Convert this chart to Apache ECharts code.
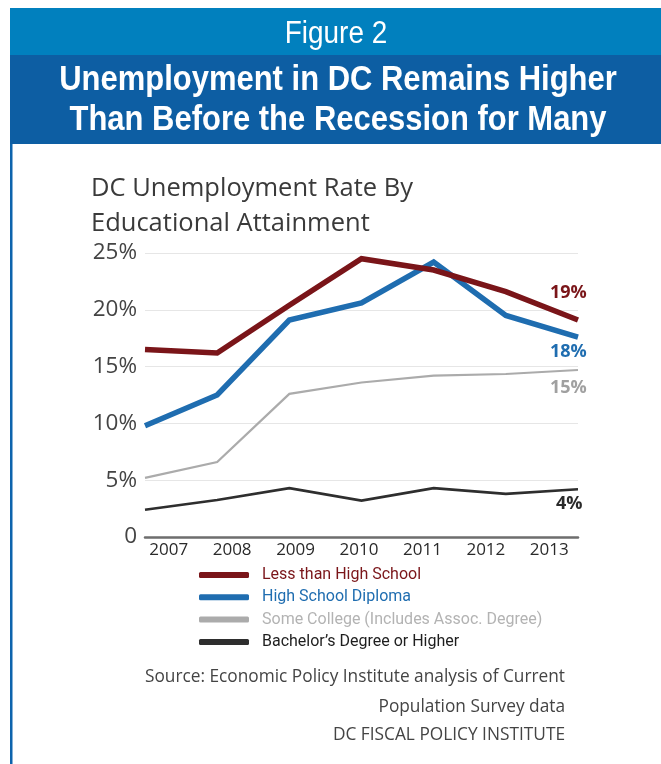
<!DOCTYPE html>
<html>
<head>
<meta charset="utf-8">
<style>
html,body{margin:0;padding:0;background:#fff;}
#chart{width:661px;height:764px;}
</style>
<script src="https://cdn.jsdelivr.net/npm/echarts@6/dist/echarts.min.js"></script>
</head>
<body>
<div id="chart"></div>
<script>
var years = ['2007','2008','2009','2010','2011','2012','2013'];
var yTicks = [0, 5, 10, 15, 20, 25];
var lessThanHS = [16.5, 16.2, 20.4, 24.5, 23.5, 21.6, 19.1];
var hsDiploma = [9.8, 12.5, 19.1, 20.6, 24.2, 19.5, 17.6];
var someCollege = [5.2, 6.6, 12.6, 13.6, 14.2, 14.35, 14.7];
var bachelors = [2.4, 3.25, 4.3, 3.2, 4.3, 3.8, 4.2];
var seriesNames = ['Less than High School','High School Diploma','Some College (Includes Assoc. Degree)',"Bachelor\u2019s Degree or Higher"];

var colors = ['#7a1519', '#1f6db0', '#ababab', '#2e2e2e'];
var labelColors = ['#7a1519', '#1f6db0', '#a0a0a0', '#2a2a2a'];
var widths = [5.5, 5.5, 2.2, 2.6];
var endOffsets = [[-36, -27], [-36, 15], [-36, 18], [-30, 15]];
var dataSets = [lessThanHS, hsDiploma, someCollege, bachelors];

var chart = echarts.init(document.getElementById('chart'), null, {renderer: 'canvas'});

var series = dataSets.map(function (d, i) {
  return {
    name: seriesNames[i],
    type: 'line',
    xAxisIndex: 0,
    yAxisIndex: 0,
    data: d,
    symbol: 'none',
    smooth: false,
    lineStyle: {color: colors[i], width: widths[i], join: 'miter', cap: 'butt'},
    itemStyle: {color: colors[i]},
    endLabel: {
      show: true,
      offset: endOffsets[i],
      formatter: function (p) { return Math.round(p.value) + '%'; },
      color: labelColors[i],
      fontFamily: 'Open Sans',
      fontWeight: 'bold',
      fontSize: 18
    },
    z: 10 - i,
    animation: false
  };
});

var option = {
  backgroundColor: '#ffffff',
  animation: false,
  title: {
    text: 'DC Unemployment Rate By\nEducational Attainment',
    left: 86,
    top: 166,
    textStyle: {
      fontFamily: 'Open Sans',
      fontWeight: 'normal',
      fontSize: 25.5,
      lineHeight: 35,
      color: '#3a3a3a'
    }
  },
  legend: {
    orient: 'vertical',
    left: 194,
    top: 560,
    icon: 'roundRect',
    itemWidth: 50,
    itemHeight: 6,
    itemGap: 2.3,
    textStyle: {
      fontFamily: 'Roboto, sans-serif',
      fontSize: 16,
      lineHeight: 20,
      padding: [0, 0, 0, 8]
    },
    data: seriesNames.map(function (n, i) {
      return {name: n, itemStyle: {color: colors[i]}, textStyle: {color: i === 2 ? '#b3b3b3' : (i === 3 ? '#1e1e1e' : colors[i])}};
    }),
    selectedMode: false
  },
  grid: [
    {left: 145, right: 83, top: 253, bottom: 227, containLabel: false},
    {left: 137, right: 80, top: 253, bottom: 227, containLabel: false}
  ],
  xAxis: [
    {
      type: 'category',
      gridIndex: 0,
      data: years,
      boundaryGap: false,
      axisLine: {show: true, lineStyle: {color: '#6e6e6e', width: 2.5}},
      axisTick: {show: false},
      axisLabel: {show: false},
      splitLine: {show: false}
    },
    {
      type: 'category',
      gridIndex: 1,
      data: years,
      boundaryGap: true,
      axisLine: {show: false},
      axisTick: {show: false},
      axisLabel: {
        show: true,
        margin: 5,
        fontFamily: 'Open Sans',
        fontSize: 17,
        color: '#2a2a2a'
      },
      splitLine: {show: false}
    }
  ],
  yAxis: [
    {
      type: 'value',
      gridIndex: 0,
      min: yTicks[0],
      max: yTicks[yTicks.length - 1],
      interval: 5,
      axisLine: {show: false},
      axisTick: {show: false},
      axisLabel: {
        margin: 8,
        fontFamily: 'Open Sans',
        fontSize: 22.5,
        color: '#444',
        formatter: function (v) { return v === 0 ? '0' : v + '%'; }
      },
      splitLine: {show: true, lineStyle: {color: '#e6e6e6', width: 1.2}}
    },
    {
      type: 'value',
      gridIndex: 1,
      min: 0, max: 25,
      show: false
    }
  ],
  graphic: [
    {type: 'rect', shape: {x: 10, y: 8, width: 651, height: 47}, style: {fill: '#0180be'}, z: 1},
    {type: 'rect', shape: {x: 10, y: 55, width: 651, height: 89}, style: {fill: '#0d5ea3'}, z: 1},
    {type: 'rect', shape: {x: 10, y: 144, width: 2.5, height: 620}, style: {fill: '#0d64ad'}, z: 1},
    {type: 'text', x: 336, y: 34, scaleX: 0.9, z: 2, style: {text: 'Figure 2', fill: '#ffffff', font: '31px "Liberation Sans", sans-serif', textAlign: 'center', textVerticalAlign: 'middle'}},
    {type: 'text', x: 338, y: 80, scaleX: 0.885, z: 2, style: {text: 'Unemployment in DC Remains Higher', fill: '#ffffff', font: 'bold 35px "Liberation Sans", sans-serif', textAlign: 'center', textVerticalAlign: 'middle'}},
    {type: 'text', x: 338, y: 120, scaleX: 0.885, z: 2, style: {text: 'Than Before the Recession for Many', fill: '#ffffff', font: 'bold 35px "Liberation Sans", sans-serif', textAlign: 'center', textVerticalAlign: 'middle'}},
    {type: 'text', x: 565, y: 677, z: 2, style: {text: 'Source: Economic Policy Institute analysis of Current', fill: '#444', font: '17.3px "Open Sans", sans-serif', textAlign: 'right', textVerticalAlign: 'middle'}},
    {type: 'text', x: 565, y: 707, z: 2, style: {text: 'Population Survey data', fill: '#444', font: '17.3px "Open Sans", sans-serif', textAlign: 'right', textVerticalAlign: 'middle'}},
    {type: 'text', x: 565, y: 735, z: 2, style: {text: 'DC FISCAL POLICY INSTITUTE', fill: '#444', font: '17.3px "Open Sans", sans-serif', textAlign: 'right', textVerticalAlign: 'middle'}}
  ],
  series: series
};
chart.setOption(option);
</script>
</body>
</html>
